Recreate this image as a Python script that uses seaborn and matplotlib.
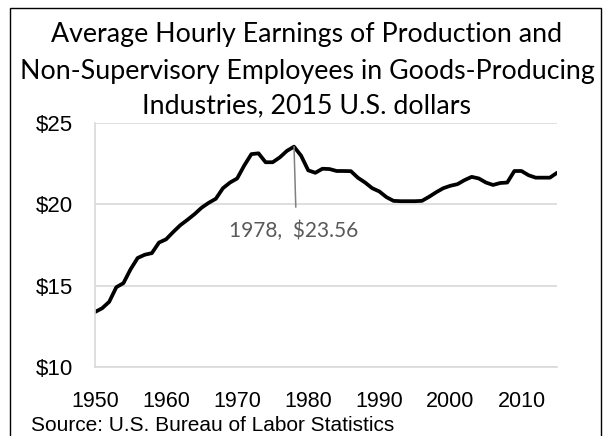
import matplotlib
matplotlib.use("Agg")
import matplotlib.pyplot as plt
import seaborn as sns
import pandas as pd
from matplotlib.patches import Rectangle

years = list(range(1950, 2016))
earnings = [
    13.37, 13.60, 14.00, 14.90, 15.15, 16.00, 16.70, 16.90, 17.00, 17.65,
    17.85, 18.30, 18.72, 19.05, 19.40, 19.80, 20.10, 20.35, 21.00, 21.35,
    21.60, 22.40, 23.10, 23.15, 22.60, 22.60, 22.90, 23.30, 23.56, 23.00,
    22.10, 21.95, 22.20, 22.18, 22.06, 22.06, 22.05, 21.64, 21.35, 21.00,
    20.80, 20.45, 20.22, 20.20, 20.20, 20.20, 20.22, 20.47, 20.75, 21.00,
    21.15, 21.25, 21.50, 21.70, 21.60, 21.35, 21.20, 21.32, 21.35, 22.06,
    22.06, 21.80, 21.65, 21.65, 21.65, 21.95,
]
x_ticks = [1950, 1960, 1970, 1980, 1990, 2000, 2010]
y_ticks = [10, 15, 20, 25]
y_tick_labels = ["$10", "$15", "$20", "$25"]
title_lines = [
    "Average Hourly Earnings of Production and",
    "Non-Supervisory Employees in Goods-Producing",
    "Industries, 2015 U.S. dollars",
]
peak_year = 1978
peak_value = 23.56
peak_label = "1978,  $23.56"
source = "Source: U.S. Bureau of Labor Statistics"

df = pd.DataFrame({"year": years, "earnings": earnings})

sns.set_theme(style="white")
plt.rcParams["font.family"] = ["Liberation Sans", "DejaVu Sans"]

W, H = 604, 436
fig = plt.figure(figsize=(W / 100, H / 100), dpi=100)
ax = fig.add_axes([95 / W, 1 - 366.7 / H, (557 - 95) / W, (366.7 - 123.3) / H])

sns.lineplot(data=df, x="year", y="earnings", ax=ax, color="black", linewidth=2.7)

ax.set_xlim(1950, 2015)
ax.set_ylim(10, 25)
ax.set_yticks(y_ticks)
ax.set_yticklabels(y_tick_labels, fontsize=16)
ax.set_xticks(x_ticks)
ax.set_xticklabels([str(t) for t in x_ticks], fontsize=15.5)
ax.tick_params(axis="both", length=0, colors="black")
ax.tick_params(axis="y", pad=15.8)
ax.tick_params(axis="x", pad=17.5)
ax.set_xlabel("")
ax.set_ylabel("")
ax.grid(axis="y", color="#d9d9d9", linewidth=1.2)
for side in ["top", "right"]:
    ax.spines[side].set_visible(False)
for side in ["left", "bottom"]:
    ax.spines[side].set_color("#d9d9d9")
    ax.spines[side].set_linewidth(1.2)

# annotation leader line and label
ax.annotate(
    "",
    xy=(peak_year, peak_value),
    xytext=(peak_year + 0.25, 19.83),
    arrowprops=dict(arrowstyle="-", color="#808080", lw=1.1,
                    shrinkA=0, shrinkB=0),
)
ax.text(peak_year - 0.1, 18.0, peak_label, ha="center", va="baseline",
        fontsize=15, color="#595959", family=["Lato", "DejaVu Sans"])

# title
baselines = [42, 79.3, 113.3]
for line, y in zip(title_lines, baselines):
    fig.text(307 / W, 1 - y / H, line, ha="center", va="baseline",
             fontsize=19.3, family=["Lato", "DejaVu Sans"], color="black")

fig.text(31 / W, 1 - 431 / H, source, ha="left", va="baseline",
         fontsize=15, color="black")

# outer border
fig.patches.append(Rectangle((10 / W, -0.05), (601 - 10) / W, 1 - 8 / H + 0.05,
                             transform=fig.transFigure, fill=False,
                             edgecolor="black", linewidth=1.0))

fig.savefig("out.png", dpi=100)
